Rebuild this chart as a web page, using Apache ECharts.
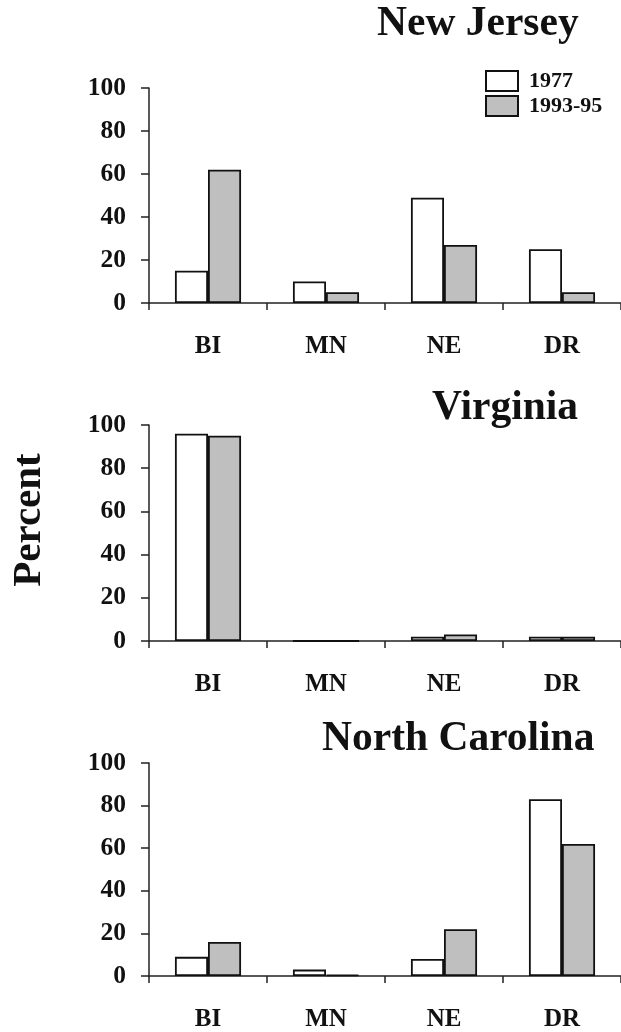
<!DOCTYPE html>
<html>
<head>
<meta charset="utf-8">
<script src="https://cdn.jsdelivr.net/npm/echarts@6/dist/echarts.min.js"></script>
<style>
html,body{margin:0;padding:0;background:#fff;}
#chart{width:621px;height:1032px;}
</style>
</head>
<body>
<div id="chart"></div>
<script>
const categories = ['BI', 'MN', 'NE', 'DR'];
const seriesNames = ['1977', '1993-95'];
const panelTitles = ['New Jersey', 'Virginia', 'North Carolina'];
const nj1977 = [15, 10, 49, 25];
const nj1993 = [62, 5, 27, 5];
const va1977 = [96, 0, 2, 2];
const va1993 = [95, 0, 3, 2];
const nc1977 = [9, 3, 8, 83];
const nc1993 = [16, 0.5, 22, 62];
const yAxisTitle = 'Percent';

const FONT = '"Liberation Serif", "Times New Roman", serif';
const panels = [[nj1977, nj1993], [va1977, va1993], [nc1977, nc1993]];
const gridTops = [88, 425, 763];
const gridHeights = [215, 216, 215];
const titleLefts = [377, 432, 322];
const titleTops = [3, 387, 718];

const chart = echarts.init(document.getElementById('chart'), null, {renderer: 'canvas'});

const grids = [], xAxes = [], yAxes = [], series = [], titles = [];
panels.forEach((p, i) => {
  grids.push({left: 149, right: 0, top: gridTops[i], height: gridHeights[i], containLabel: false});
  titles.push({
    text: panelTitles[i], left: titleLefts[i], top: titleTops[i], padding: 0,
    textStyle: {fontFamily: FONT, fontSize: 41.5, fontWeight: 'bold', color: '#111'}
  });
  xAxes.push({
    type: 'category', gridIndex: i, data: categories,
    axisLine: {lineStyle: {color: '#222', width: 1.5}},
    axisTick: {show: true, length: 7, lineStyle: {color: '#222', width: 1.5}},
    axisLabel: {fontFamily: FONT, fontSize: 25, fontWeight: 'bold', color: '#111', margin: 31},
    splitLine: {show: false}
  });
  yAxes.push({
    type: 'value', gridIndex: i, min: 0, max: 100, interval: 20,
    axisLine: {show: true, lineStyle: {color: '#222', width: 1.5}},
    axisTick: {show: true, length: 8, lineStyle: {color: '#222', width: 1.5}},
    axisLabel: {fontFamily: FONT, fontSize: 25.5, fontWeight: 'bold', color: '#111', margin: 23},
    splitLine: {show: false}
  });
  series.push({
    name: seriesNames[0], type: 'bar', xAxisIndex: i, yAxisIndex: i, data: p[0],
    barWidth: '28%', barGap: '0%',
    itemStyle: {color: '#ffffff', borderColor: '#111', borderWidth: 1.8},
    emphasis: {disabled: true}, animation: false
  });
  series.push({
    name: seriesNames[1], type: 'bar', xAxisIndex: i, yAxisIndex: i, data: p[1],
    barWidth: '28%', barGap: '0%',
    itemStyle: {color: '#bfbfbf', borderColor: '#111', borderWidth: 1.8},
    emphasis: {disabled: true}, animation: false
  });
});

chart.setOption({
  animation: false,
  backgroundColor: '#ffffff',
  title: titles,
  legend: {
    data: seriesNames, orient: 'vertical', left: 485, top: 70, padding: 0,
    itemWidth: 32, itemHeight: 20, itemGap: 3, icon: 'rect',
    textStyle: {fontFamily: FONT, fontSize: 22, fontWeight: 'bold', color: '#111', padding: [0, 0, 0, 6]},
    selectedMode: false
  },
  grid: grids,
  xAxis: xAxes,
  yAxis: yAxes,
  series: series,
  graphic: [{
    type: 'text', x: 29, y: 520, rotation: Math.PI / 2,
    style: {text: yAxisTitle, font: 'bold 41px ' + FONT, fill: '#111', align: 'center', verticalAlign: 'middle'}
  }]
});
</script>
</body>
</html>
